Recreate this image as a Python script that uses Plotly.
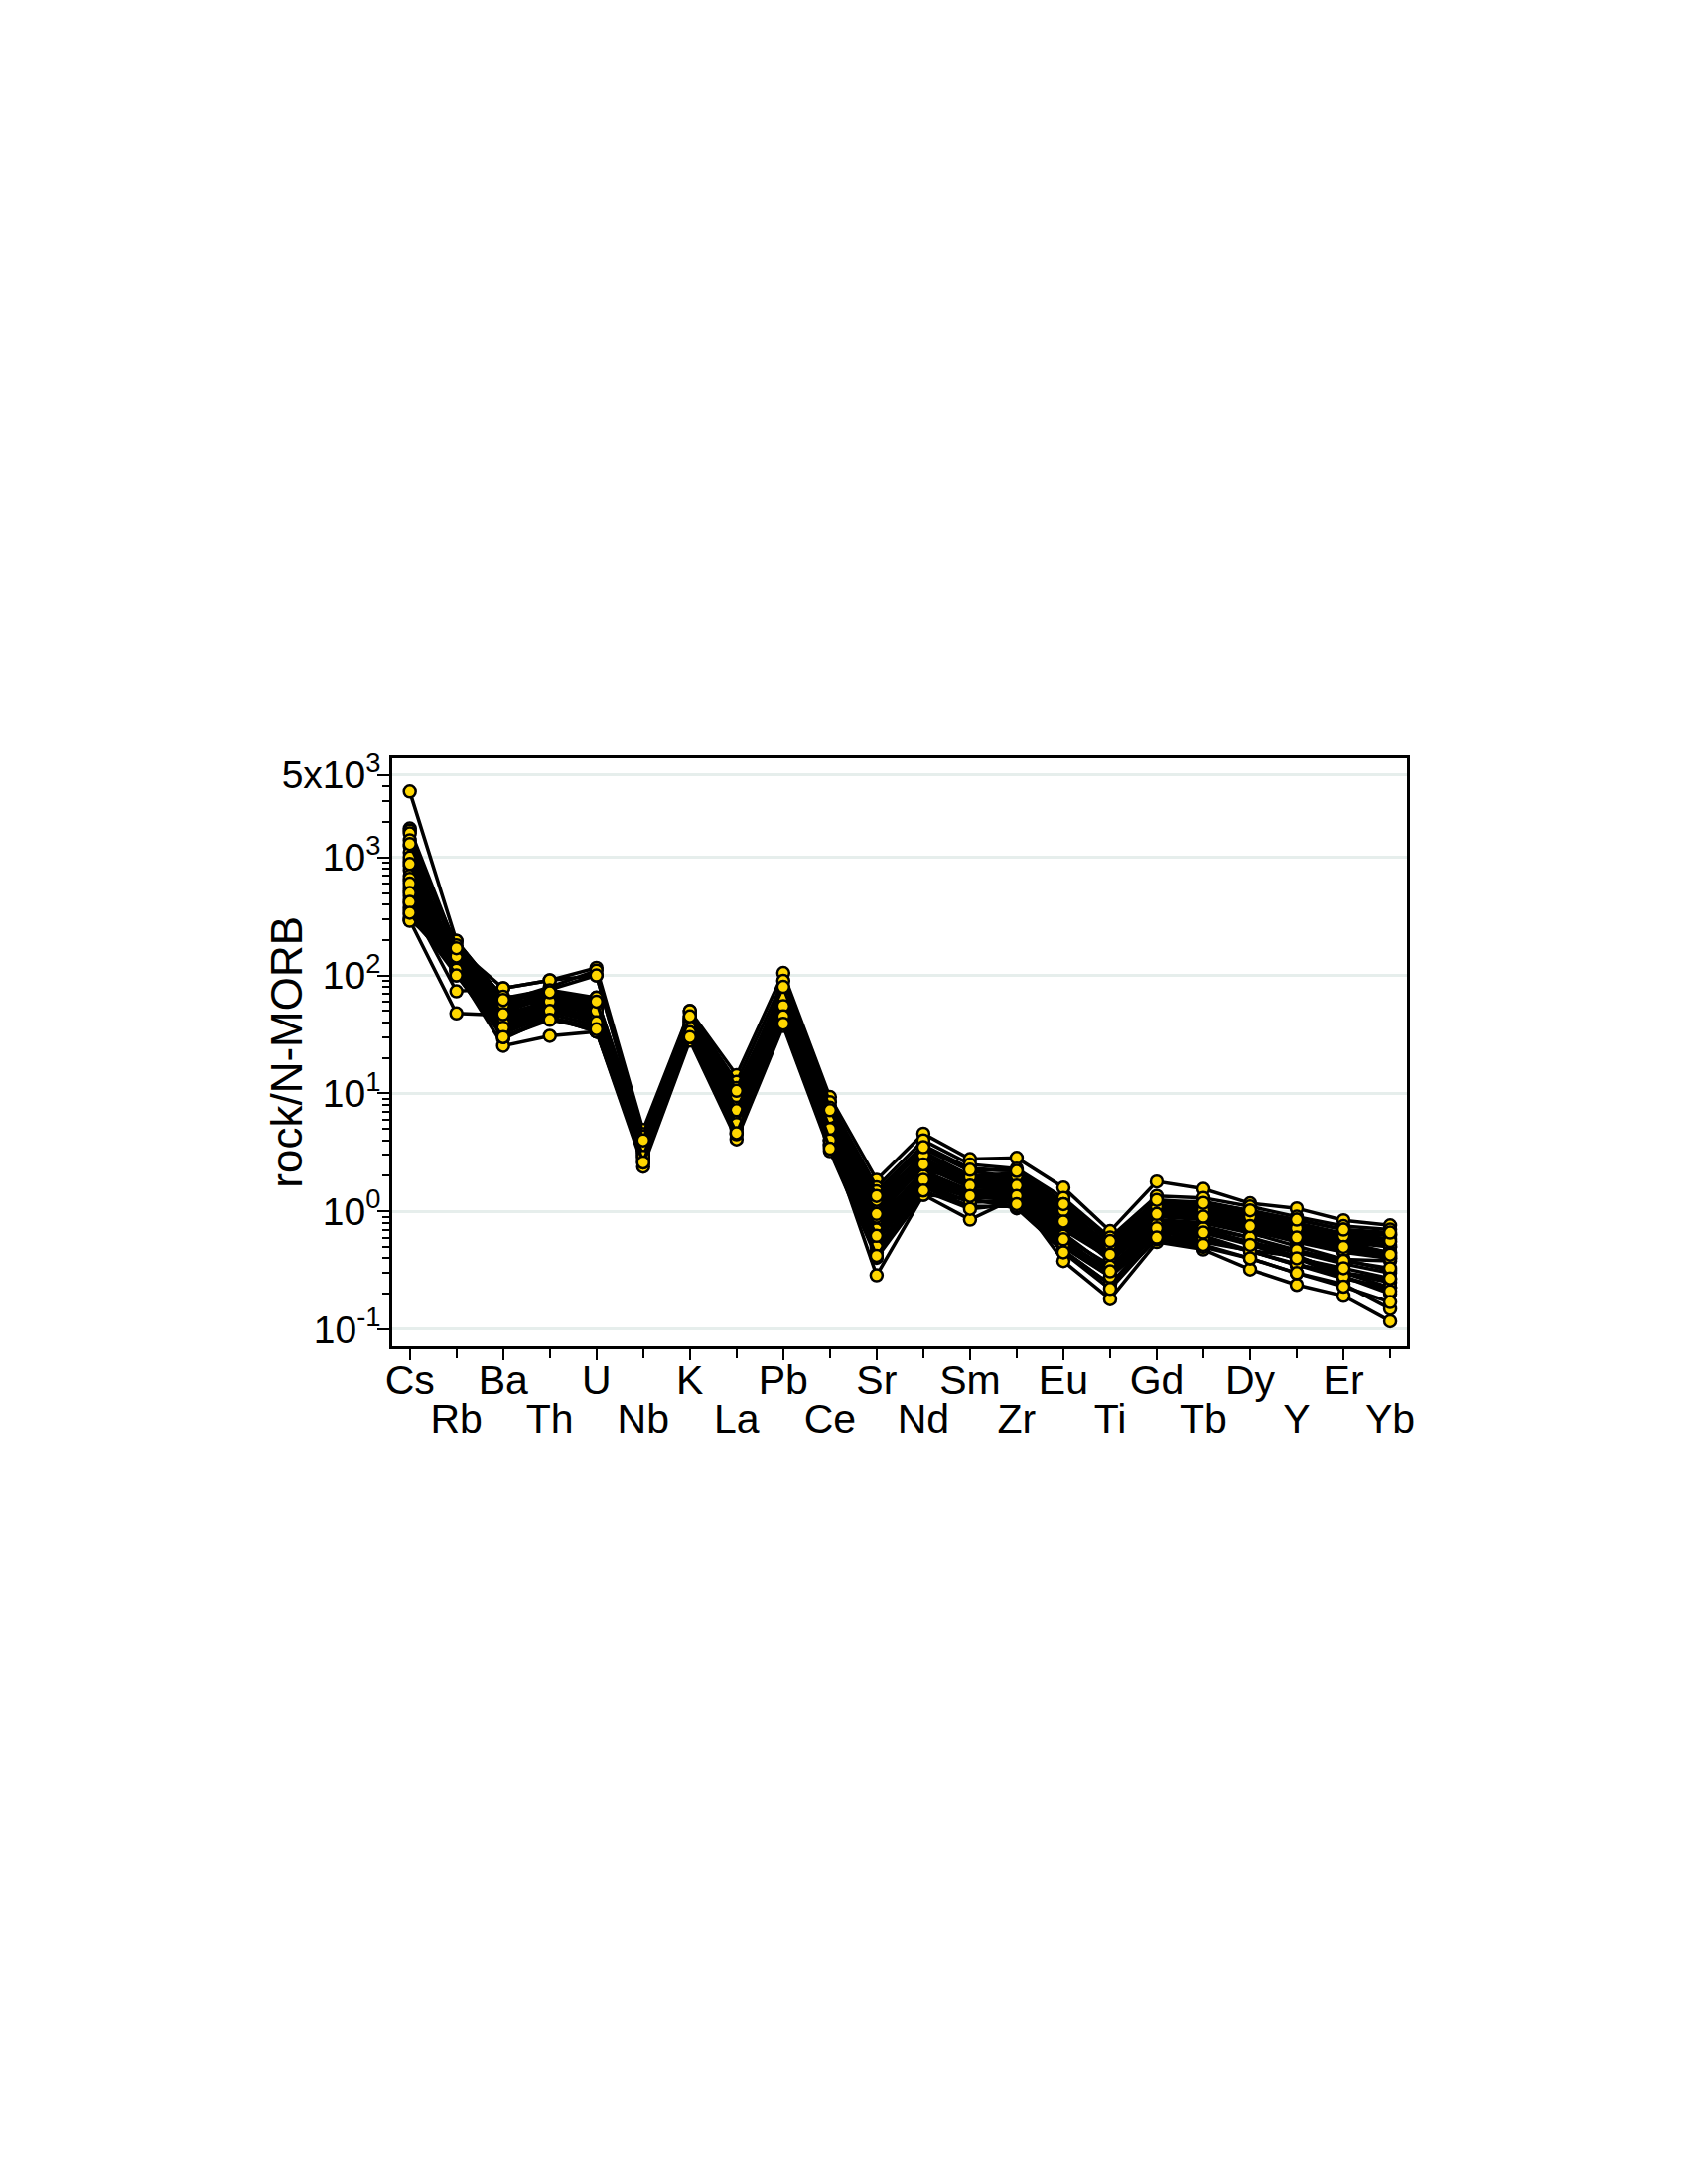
import plotly.graph_objects as go

elements = ["Cs", "Rb", "Ba", "Th", "U", "Nb", "K", "La", "Pb", "Ce", "Sr",
            "Nd", "Sm", "Zr", "Eu", "Ti", "Gd", "Tb", "Dy", "Y", "Er", "Yb"]

# rock / N-MORB normalised values, one list per sample
s01 = [3620, 196, 64, 76, 100, 4.1, 45, 11.1, 72, 7.6, 1.48, 3.64, 2.31, 2.2, 1.21, 0.58, 1.2, 1.21, 1.01, 0.80, 0.59, 0.64]
s02 = [1760, 170, 78, 91, 116, 4.9, 50, 14.3, 105, 9.3, 1.85, 4.56, 2.77, 2.84, 1.59, 0.68, 1.79, 1.55, 1.17, 1.06, 0.84, 0.76]
s03 = [1690, 155, 60, 80, 110, 4.5, 48, 12.5, 90, 8.4, 1.6, 4.0, 2.5, 2.3, 1.3, 0.6, 1.35, 1.3, 1.1, 0.9, 0.75, 0.70]
s04 = [1600, 145, 55, 70, 65, 4.06, 42, 10, 75, 7.0, 1.3, 3.4, 2.2, 1.93, 1.15, 0.55, 1.2, 1.15, 1.0, 0.85, 0.70, 0.62]
s05 = [1250, 129, 48, 68, 59, 3.9, 40, 8.9, 61.7, 5.92, 1.16, 3.0, 1.87, 1.93, 0.94, 0.49, 1.01, 0.94, 0.82, 0.63, 0.59, 0.50]
s06 = [1100, 120, 45, 62, 55, 3.6, 38, 8.0, 58, 5.5, 1.05, 2.8, 1.8, 1.8, 0.9, 0.47, 1.05, 1.0, 0.88, 0.70, 0.60, 0.55]
s07 = [930, 108, 40, 58, 52, 3.24, 36, 7.0, 55, 5.0, 0.967, 2.4, 1.6, 1.7, 0.85, 0.45, 0.95, 0.93, 0.78, 0.627, 0.55, 0.445]
s08 = [850, 196, 64, 55, 52.5, 3.5, 39.8, 8.9, 51.5, 5.92, 0.82, 2.2, 1.87, 1.6, 0.94, 0.38, 0.81, 0.80, 0.656, 0.507, 0.392, 0.38]
s09 = [780, 155, 34.5, 49, 42, 3.24, 34, 6.5, 48, 4.6, 0.90, 2.01, 1.5, 1.55, 0.75, 0.42, 0.90, 0.85, 0.70, 0.55, 0.45, 0.40]
s10 = [700, 140, 38, 52, 45, 3.4, 35, 6.0, 52, 4.4, 0.75, 2.1, 1.45, 1.5, 0.70, 0.40, 0.85, 0.80, 0.68, 0.56, 0.48, 0.42]
s11 = [630, 129, 29, 44, 33.4, 2.8, 32.4, 5.84, 44, 3.95, 0.665, 1.9, 1.35, 1.4, 0.607, 0.35, 0.75, 0.70, 0.55, 0.45, 0.39, 0.316]
s12 = [560, 118, 32, 47, 38, 3.0, 33, 5.2, 40, 3.7, 0.6, 1.75, 1.3, 1.31, 0.55, 0.30, 0.70, 0.656, 0.55, 0.417, 0.302, 0.265]
s13 = [470, 108, 25.3, 30.7, 33.4, 2.39, 28, 4.08, 37.3, 3.24, 0.404, 1.38, 1.28, 1.06, 0.466, 0.241, 0.666, 0.62, 0.466, 0.417, 0.302, 0.226]
s14 = [440, 130, 42, 60, 50, 3.3, 37, 6.5, 50, 4.5, 0.558, 1.9, 1.4, 1.35, 0.55, 0.32, 0.60, 0.55, 0.466, 0.35, 0.30, 0.25]
s15 = [410, 73.4, 78, 91, 100, 4.06, 49.9, 11.1, 72, 7.55, 1.48, 3.2, 2.0, 2.1, 1.1, 0.50, 1.15, 1.1, 0.95, 0.796, 0.65, 0.636]
s16 = [380, 125, 50, 65, 60, 3.8, 42, 7.5, 60, 5.5, 1.0, 2.6, 1.7, 1.6, 0.8, 0.38, 0.81, 0.75, 0.60, 0.45, 0.36, 0.30]
s17 = [360, 110, 36, 52, 46, 3.1, 34, 5.5, 46, 4.0, 0.287, 1.38, 0.85, 1.31, 0.379, 0.18, 0.55, 0.475, 0.322, 0.238, 0.192, 0.117]
s18 = [330, 150, 44, 58, 40, 3.2, 36, 6.8, 54, 4.8, 0.8, 2.2, 1.5, 1.5, 0.65, 0.33, 0.75, 0.70, 0.52, 0.40, 0.28, 0.20]
s19 = [310, 115, 30, 44, 33.4, 2.6, 30, 4.5, 40, 3.5, 0.45, 1.6, 1.1, 1.1, 0.466, 0.241, 0.58, 0.50, 0.40, 0.30, 0.241, 0.149]
s20 = [293, 47.6, 46, 50, 42, 2.9, 32.4, 5.0, 43.9, 3.7, 0.55, 1.7, 1.2, 1.2, 0.50, 0.28, 0.66, 0.60, 0.46, 0.35, 0.27, 0.226]
s21 = [300, 135, 52, 70, 62, 3.5, 40, 7.8, 62, 5.6, 1.1, 2.7, 1.75, 1.8, 0.88, 0.45, 1.05, 0.98, 0.82, 0.65, 0.55, 0.50]
s22 = [290, 160, 58, 75, 64.6, 4.3, 44, 9.5, 68, 6.5, 1.2, 3.1, 2.0, 2.05, 1.0, 0.52, 1.1, 1.05, 0.95, 0.75, 0.65, 0.58]
s23 = [1400, 180, 66, 66, 58, 3.7, 41, 8.5, 58, 5.8, 1.1, 2.6, 1.65, 1.7, 0.95, 0.5, 1.12, 1.05, 0.85, 0.68, 0.58, 0.52]
s24 = [520, 100, 34, 44, 36, 2.7, 31, 5.2, 42, 3.6, 0.5, 1.6, 1.2, 1.25, 0.52, 0.28, 0.62, 0.58, 0.46, 0.36, 0.28, 0.21]
s25 = [1000, 140, 52, 64, 56, 3.7, 41, 8.2, 64, 6.0, 1.0, 2.7, 1.8, 1.75, 0.9, 0.44, 1.0, 0.95, 0.8, 0.62, 0.52, 0.45]
s26 = [880, 125, 44, 56, 48, 3.3, 37, 7.0, 56, 5.2, 0.9, 2.4, 1.6, 1.6, 0.8, 0.40, 0.92, 0.88, 0.72, 0.58, 0.47, 0.40]
s27 = [660, 160, 56, 62, 54, 3.6, 43, 9.5, 66, 6.3, 1.25, 3.0, 1.95, 2.0, 1.02, 0.52, 1.1, 1.02, 0.9, 0.72, 0.62, 0.56]
s28 = [600, 118, 40, 54, 44, 3.0, 35, 6.2, 48, 4.3, 0.7, 2.0, 1.45, 1.45, 0.62, 0.34, 0.78, 0.72, 0.6, 0.47, 0.38, 0.33]
s29 = [500, 145, 47, 60, 50, 3.45, 38, 7.2, 55, 5.0, 0.95, 2.5, 1.65, 1.65, 0.82, 0.43, 0.95, 0.90, 0.75, 0.6, 0.5, 0.43]
s30 = [420, 112, 36, 50, 40, 2.9, 33, 5.5, 45, 4.0, 0.62, 1.85, 1.35, 1.35, 0.58, 0.31, 0.72, 0.66, 0.52, 0.4, 0.33, 0.27]
s31 = [1300, 170, 62, 72, 60, 4.0, 45, 10.5, 80, 7.2, 1.35, 3.5, 2.25, 2.2, 1.15, 0.56, 1.25, 1.18, 1.02, 0.85, 0.7, 0.66]
s32 = [340, 100, 30, 42, 35, 2.6, 30, 4.6, 39, 3.4, 0.42, 1.5, 1.05, 1.15, 0.45, 0.22, 0.6, 0.52, 0.4, 0.3, 0.23, 0.17]

samples = [s01, s02, s03, s04, s05, s06, s07, s08, s09, s10, s11, s12,
           s13, s14, s15, s16, s17, s18, s19, s20, s21, s22, s23, s24,
           s25, s26, s27, s28, s29, s30, s31, s32]

y_tickvals = [0.1, 1, 10, 100, 1000, 5000]
y_ticktext = ["10<sup>-1</sup>", "10<sup>0</sup>", "10<sup>1</sup>", "10<sup>2</sup>",
              "10<sup>3</sup>", "5x10<sup>3</sup>"]
y_minor = [m * 10 ** e for e in (-1, 0, 1, 2) for m in range(2, 10)] + [2000, 3000, 4000]

top_row = elements[0::2]   # labels on the first line
bot_row = elements[1::2]   # labels on the second line

FONT = "Liberation Sans, Arial, Helvetica, sans-serif"

fig = go.Figure()
for s in samples:
    fig.add_trace(go.Scatter(
        x=elements, y=s, mode="lines+markers",
        line=dict(color="black", width=3.5),
        marker=dict(size=12, color="#FFD700", line=dict(color="black", width=2.5)),
        showlegend=False, hoverinfo="skip"))

# carrier for the second row of element labels
fig.add_trace(go.Scatter(x=elements, y=[None] * len(elements), xaxis="x2",
                         mode="markers", showlegend=False, hoverinfo="skip"))

xr = [-0.376, 21.36]

fig.update_layout(
    width=1684, height=2184,
    margin=dict(l=387, r=275, t=756, b=836, pad=0),
    paper_bgcolor="white", plot_bgcolor="white",
    font=dict(family=FONT, color="black", size=38),
    xaxis=dict(type="category", categoryorder="array", categoryarray=elements,
               range=xr, tickmode="array", tickvals=top_row, ticktext=top_row,
               ticks="outside", ticklen=11, tickwidth=2, tickcolor="black",
               showline=True, linecolor="black", linewidth=2.5, mirror=True,
               showgrid=False, zeroline=False, tickangle=0,
               ticklabelstandoff=-15,
               tickfont=dict(family=FONT, size=41, color="black")),
    xaxis2=dict(type="category", categoryorder="array", categoryarray=elements,
                range=xr, overlaying="x", anchor="y", side="bottom",
                tickmode="array", tickvals=bot_row, ticktext=bot_row,
                ticks="outside", ticklen=11, tickwidth=2, tickcolor="black",
                showline=False, showgrid=False, zeroline=False,
                ticklabelstandoff=26, tickangle=0,
                tickfont=dict(family=FONT, size=41, color="black")),
    yaxis=dict(type="log", range=[-1.1432, 3.8396],
               tickmode="array", tickvals=y_tickvals, ticktext=y_ticktext,
               ticks="outside", ticklen=12, tickwidth=2, tickcolor="black",
               showline=True, linecolor="black", linewidth=2.5, mirror=True,
               showgrid=True, gridcolor="#e6eeec", gridwidth=3, zeroline=False,
               ticklabelstandoff=-11,
               minor=dict(tickmode="array", tickvals=y_minor, ticks="outside",
                          ticklen=7, tickwidth=2, tickcolor="black", showgrid=False),
               tickfont=dict(family=FONT, size=39, color="black")),
    annotations=[dict(text="rock/N-MORB", xref="paper", yref="paper",
                      x=-0.105, y=0.5, xanchor="center", yanchor="middle",
                      textangle=-90, showarrow=False,
                      font=dict(family=FONT, size=44, color="black"))],
)

fig.write_html("out.html")
